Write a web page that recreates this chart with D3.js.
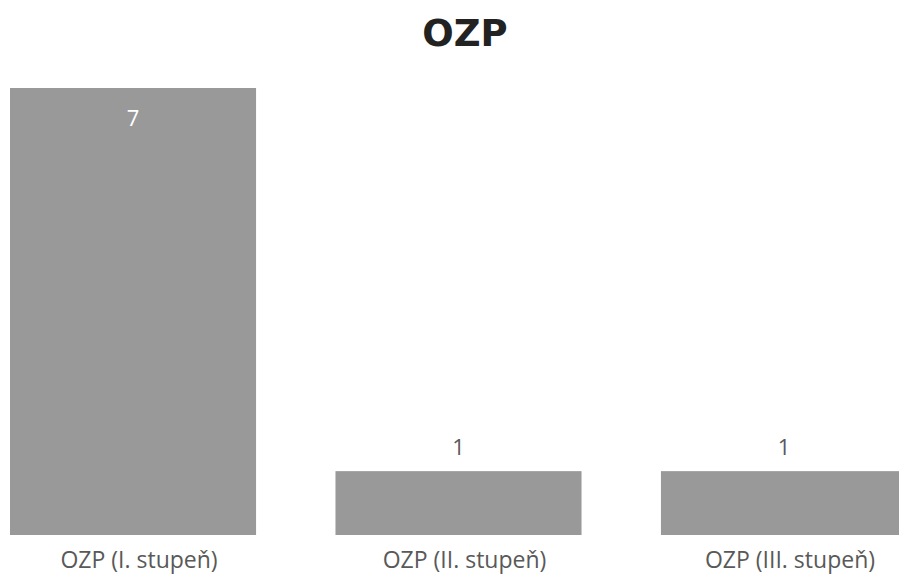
<!DOCTYPE html>
<html><head><meta charset="utf-8">
<script src="https://cdn.jsdelivr.net/npm/d3@7"></script>
<style>body{margin:0;background:#fff}</style>
</head><body><svg id="c" width="899" height="574"></svg>
<script>
const categories = ["OZP (I. stupeň)", "OZP (II. stupeň)", "OZP (III. stupeň)"];
const values = [7, 1, 1];
const title = "OZP";

const svg = d3.select("#c");
const x = d3.scaleBand().domain(categories).range([10, 907]).paddingInner(0.244).paddingOuter(0);
const y = d3.scaleLinear().domain([0, 7]).range([535, 88]);

svg.append("text").attr("x", 465).attr("y", 46).attr("text-anchor", "middle")
  .attr("font-family", "DejaVu Sans").attr("font-weight", "bold").attr("font-size", 37)
  .attr("fill", "#222").text(title);

const data = categories.map((c, i) => ({c, v: values[i]}));
svg.selectAll("rect.bar").data(data).enter().append("rect").attr("class", "bar")
  .attr("x", d => x(d.c)).attr("width", x.bandwidth())
  .attr("y", d => y(d.v)).attr("height", d => y(0) - y(d.v)).attr("fill", "#999999");

svg.selectAll("text.val").data(data).enter().append("text").attr("class", "val")
  .attr("x", d => x(d.c) + x.bandwidth() / 2)
  .attr("y", d => d.v > 3 ? y(d.v) + 38 : y(d.v) - 16)
  .attr("text-anchor", "middle").attr("font-family", "Open Sans").attr("font-size", 22)
  .attr("fill", d => d.v > 3 ? "#fff" : "#595959").text(d => d.v);

const xAxis = svg.append("g").attr("transform", "translate(6,0)")
  .call(d3.axisBottom(x).tickSize(0).tickPadding(0));
xAxis.select(".domain").remove();
xAxis.selectAll("text").attr("y", 568).attr("dy", 0)
  .attr("font-family", "Open Sans").attr("font-size", 23).attr("letter-spacing", 0)
  .attr("fill", "#595959");
</script></body></html>
